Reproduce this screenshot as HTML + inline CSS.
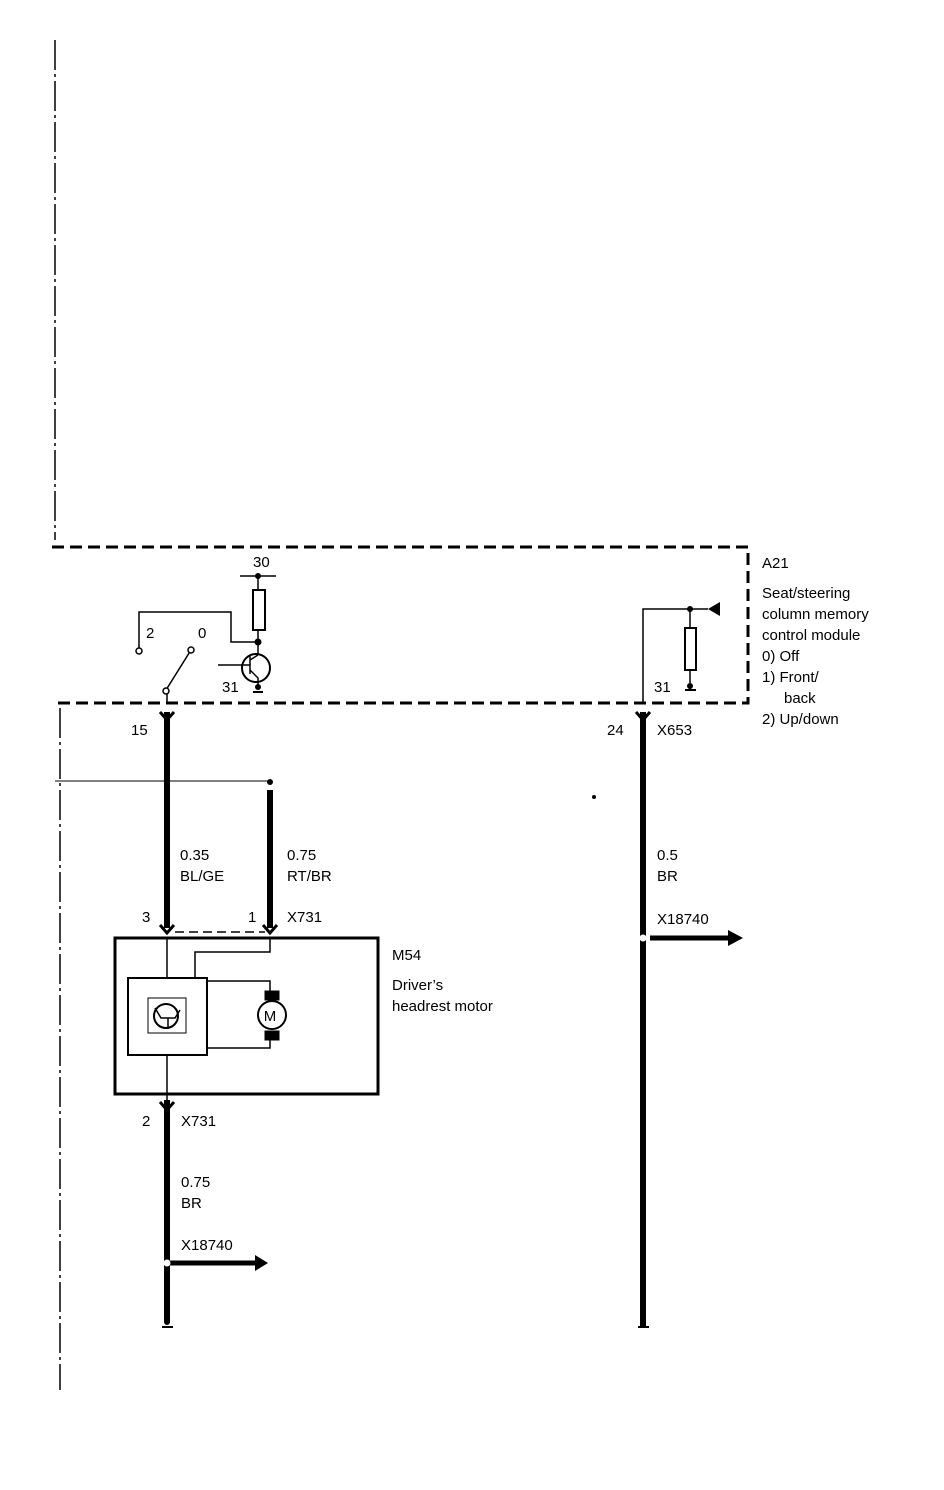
<!DOCTYPE html><html><head><style>body{margin:0;background:#fff}svg{display:block}text{font-family:"Liberation Sans",sans-serif;font-size:15px;fill:#000}</style></head><body>
<svg width="944" height="1490" viewBox="0 0 944 1490" xmlns="http://www.w3.org/2000/svg">
<g stroke="#000" fill="none">
<line x1="55" y1="40" x2="55" y2="540" stroke-width="1.5" stroke-dasharray="30,4,3,4"/>
<line x1="60" y1="708" x2="60" y2="1390" stroke-width="1.5" stroke-dasharray="30,4,3,4"/>
<path d="M52 547H748V703H55" stroke-width="3" stroke-dasharray="12,6"/>
<line x1="55" y1="781" x2="270" y2="781" stroke-width="1"/>
<line x1="167" y1="712" x2="167" y2="928" stroke-width="6"/>
<line x1="270" y1="790" x2="270" y2="928" stroke-width="6"/>
<line x1="643" y1="712" x2="643" y2="1328" stroke-width="6"/>
<line x1="167" y1="1100" x2="167" y2="1322" stroke-width="6"/>
<path d="M160 712l7 8 7-8M160 925l7 8 7-8M263 925l7 8 7-8M636 712l7 8 7-8M160 1102l7 8 7-8" stroke-width="3"/>
<line x1="175" y1="932" x2="265" y2="932" stroke-width="1.5" stroke-dasharray="9,5"/>
<rect x="115" y="938" width="263" height="156" stroke-width="3"/>
<rect x="128" y="978" width="79" height="77" stroke-width="2"/>
<rect x="148" y="998" width="38" height="35" stroke-width="1"/>
<circle cx="166" cy="1016" r="12" stroke-width="2"/>
<path d="M155 1008l6 10h14l5-8M168 1018v10" stroke-width="1.5"/>
<path d="M167 938v40M167 1055v45M195 978v-26h75v-14M207 981h63v10M207 1048h63v-10" stroke-width="1.5"/>
<circle cx="272" cy="1015" r="14" stroke-width="2"/>
<rect x="265" y="991" width="14" height="9" fill="#000"/>
<rect x="265" y="1031" width="14" height="9" fill="#000"/>
<path d="M139 651V612h92v30h27" stroke-width="1.5"/>
<line x1="166" y1="690" x2="191" y2="650" stroke-width="1.5"/>
<line x1="167" y1="694" x2="167" y2="703" stroke-width="1.5"/>
<circle cx="139" cy="651" r="3" fill="#fff" stroke-width="1.5"/>
<circle cx="191" cy="650" r="3" fill="#fff" stroke-width="1.5"/>
<circle cx="166" cy="691" r="3" fill="#fff" stroke-width="1.5"/>
<line x1="240" y1="576" x2="276" y2="576" stroke-width="1.5"/>
<line x1="258" y1="576" x2="258" y2="655" stroke-width="1.5"/>
<rect x="253" y="590" width="12" height="40" fill="#fff" stroke-width="2"/>
<circle cx="256" cy="668" r="14" stroke-width="2"/>
<path d="M218 665h32M250 656v18M250 660l8-5M250 670l8 8v10" stroke-width="1.5"/>
<path d="M643 703V609h47M690 609v80M690 609h18" stroke-width="1.5"/>
<rect x="685" y="628" width="11" height="42" fill="#fff" stroke-width="2"/>
<path d="M650 938h78M167 1263h88" stroke-width="5"/>
</g>
<g fill="#000">
<path d="M708 609l12-7v14zM728 930l15 8-15 8zM255 1255l13 8-13 8z"/>
<circle cx="258" cy="576" r="3"/><circle cx="258" cy="642" r="3.5"/><circle cx="690" cy="609" r="3"/>
<circle cx="270" cy="782" r="3"/><circle cx="643" cy="938" r="3.5" fill="#fff"/><circle cx="167" cy="1263" r="3.5" fill="#fff"/>
<circle cx="594" cy="797" r="2"/>
<path d="M253 691h10v2h-10zM685 689h11v2h-11zM162 1326h11v2h-11zM638 1326h11v2h-11z"/>
<circle cx="258" cy="687" r="3"/><circle cx="690" cy="686" r="3"/><circle cx="167" cy="1322" r="3"/><circle cx="643" cy="1322" r="3"/>
</g>
<text x="270" y="1021" font-size="11" text-anchor="middle">M</text>
<text x="253" y="567">30</text><text x="146" y="638">2</text><text x="198" y="638">0</text>
<text x="222" y="692">31</text><text x="654" y="692">31</text>
<text x="131" y="735">15</text><text x="607" y="735">24</text><text x="657" y="735">X653</text>
<text x="762" y="568">A21</text><text x="762" y="598">Seat/steering</text><text x="762" y="619">column memory</text><text x="762" y="640">control module</text><text x="762" y="661">0)  Off</text><text x="762" y="682">1)  Front/</text><text x="784" y="703">back</text><text x="762" y="724">2)  Up/down</text>
<text x="180" y="860">0.35</text><text x="180" y="881">BL/GE</text>
<text x="287" y="860">0.75</text><text x="287" y="881">RT/BR</text>
<text x="657" y="860">0.5</text><text x="657" y="881">BR</text><text x="657" y="924">X18740</text>
<text x="142" y="922">3</text><text x="248" y="922">1</text><text x="287" y="922">X731</text>
<text x="392" y="960">M54</text><text x="392" y="990">Driver’s</text><text x="392" y="1011">headrest motor</text>
<text x="142" y="1126">2</text><text x="181" y="1126">X731</text>
<text x="181" y="1187">0.75</text><text x="181" y="1208">BR</text><text x="181" y="1250">X18740</text>
</svg></body></html>
